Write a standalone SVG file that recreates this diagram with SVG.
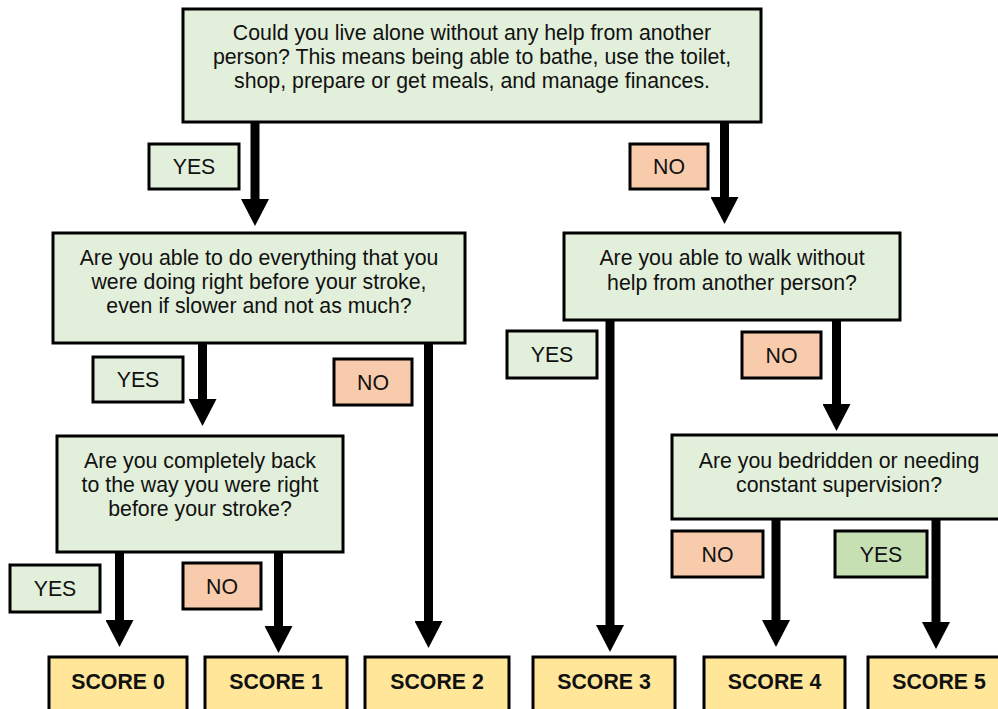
<svg xmlns="http://www.w3.org/2000/svg" width="998" height="709" viewBox="0 0 998 709">
<defs>
<style>
.q{fill:#e2efda;stroke:#000;stroke-width:3}
.y{fill:#e2efda;stroke:#000;stroke-width:3}
.n{fill:#f8cbad;stroke:#000;stroke-width:3}
.yd{fill:#c6e0b4;stroke:#000;stroke-width:3}
.s{fill:#ffe699;stroke:#000;stroke-width:3}
text{font-family:"Liberation Sans",Arial,sans-serif;font-size:21.3px;fill:#111;text-anchor:middle}
.b{font-weight:bold}
.c{stroke:#000;stroke-width:9;fill:none;marker-end:url(#ah)}
</style>
<marker id="ah" markerUnits="userSpaceOnUse" viewBox="0 -14 27 28" refX="0" refY="0" markerWidth="27" markerHeight="28" orient="auto">
<path d="M0,-14 L27,0 L0,14 z" fill="#000"/>
</marker>
</defs>
<rect width="998" height="709" fill="#fff"/>
<g id="connectors">
<line class="c" x1="255" y1="122" x2="255" y2="199"/>
<line class="c" x1="724.5" y1="122" x2="724.5" y2="197"/>
<line class="c" x1="202.5" y1="343" x2="202.5" y2="399"/>
<line class="c" x1="428.5" y1="343" x2="428.5" y2="621"/>
<line class="c" x1="119.5" y1="552" x2="119.5" y2="620"/>
<line class="c" x1="278.5" y1="552" x2="278.5" y2="626"/>
<line class="c" x1="610" y1="320" x2="610" y2="625"/>
<line class="c" x1="836.5" y1="320" x2="836.5" y2="404"/>
<line class="c" x1="776" y1="519" x2="776" y2="620"/>
<line class="c" x1="936" y1="519" x2="936" y2="622"/>
</g>
<g id="q1">
<rect class="q" x="183" y="9" width="578" height="113"/>
<text x="472" y="40">Could you live alone without any help from another</text>
<text x="472" y="64">person? This means being able to bathe, use the toilet,</text>
<text x="472" y="88">shop, prepare or get meals, and manage finances.</text>
</g>
<g id="q2">
<rect class="q" x="53" y="233" width="412" height="110"/>
<text x="259" y="265">Are you able to do everything that you</text>
<text x="259" y="289">were doing right before your stroke,</text>
<text x="259" y="313">even if slower and not as much?</text>
</g>
<g id="q3">
<rect class="q" x="564" y="233" width="336" height="87"/>
<text x="732" y="265">Are you able to walk without</text>
<text x="732" y="290">help from another person?</text>
</g>
<g id="q4">
<rect class="q" x="57" y="436" width="286" height="116"/>
<text x="200" y="468">Are you completely back</text>
<text x="200" y="492">to the way you were right</text>
<text x="200" y="516">before your stroke?</text>
</g>
<g id="q5">
<rect class="q" x="672" y="435" width="334" height="84"/>
<text x="839" y="468">Are you bedridden or needing</text>
<text x="839" y="492">constant supervision?</text>
</g>
<g id="l-yes1"><rect class="y" x="149" y="144" width="90" height="45"/><text x="194" y="174">YES</text></g>
<g id="l-no1"><rect class="n" x="630" y="144" width="78" height="45"/><text x="669" y="174">NO</text></g>
<g id="l-yes2"><rect class="y" x="93" y="357" width="90" height="45"/><text x="138" y="387">YES</text></g>
<g id="l-no2"><rect class="n" x="334" y="359" width="78" height="46"/><text x="373" y="390">NO</text></g>
<g id="l-yes3"><rect class="y" x="507" y="331" width="90" height="47"/><text x="552" y="362">YES</text></g>
<g id="l-no3"><rect class="n" x="742" y="332" width="79" height="46"/><text x="781.5" y="363">NO</text></g>
<g id="l-yes4"><rect class="y" x="10" y="565" width="90" height="47"/><text x="55" y="596">YES</text></g>
<g id="l-no4"><rect class="n" x="183" y="563" width="78" height="46"/><text x="222" y="594">NO</text></g>
<g id="l-no5"><rect class="n" x="672" y="531" width="91" height="46"/><text x="717.5" y="562">NO</text></g>
<g id="l-yes5"><rect class="yd" x="835" y="531" width="92" height="46"/><text x="881" y="562">YES</text></g>
<g id="s0"><rect class="s" x="49" y="657" width="138" height="56"/><text class="b" x="118" y="689">SCORE 0</text></g>
<g id="s1"><rect class="s" x="205" y="657" width="142" height="56"/><text class="b" x="276" y="689">SCORE 1</text></g>
<g id="s2"><rect class="s" x="365" y="657" width="144" height="56"/><text class="b" x="437" y="689">SCORE 2</text></g>
<g id="s3"><rect class="s" x="533" y="657" width="142" height="56"/><text class="b" x="604" y="689">SCORE 3</text></g>
<g id="s4"><rect class="s" x="704" y="657" width="141" height="56"/><text class="b" x="774.5" y="689">SCORE 4</text></g>
<g id="s5"><rect class="s" x="868" y="657" width="142" height="56"/><text class="b" x="939" y="689">SCORE 5</text></g>
</svg>
